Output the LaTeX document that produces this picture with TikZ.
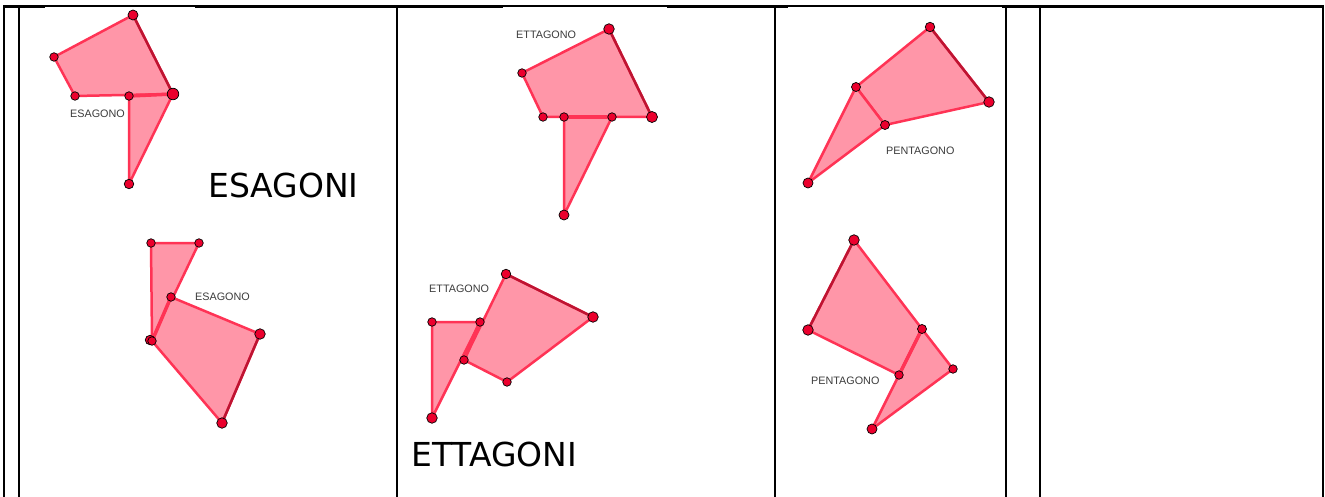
\documentclass[tikz,border=0pt]{standalone}
\usepackage{fontspec}
\setmainfont{DejaVu Sans}
\newfontfamily\lblfont{Liberation Sans}
\definecolor{polyfill}{RGB}{255,150,168}
\definecolor{polyedge}{RGB}{255,51,85}
\definecolor{darkedge}{RGB}{190,20,50}
\definecolor{dotred}{RGB}{235,0,45}
\definecolor{lblgrey}{RGB}{60,60,60}
\tikzset{
  poly/.style={fill=polyfill, draw=polyedge, line width=2.5pt, line join=round},
  darkside/.style={draw=darkedge, line width=2.5pt, line cap=round},
  shared/.style={draw=polyedge, line width=3.5pt},
  vdot/.style={circle, fill=dotred, draw=black, line width=0.7pt, inner sep=0pt, minimum size=#1},
  vdot/.default=9pt,
  bigtxt/.style={font=\fontsize{33}{39}\selectfont, inner sep=0pt, anchor=base west, text=black},
  smalltxt/.style={font=\lblfont\fontsize{10.8}{12}\selectfont, inner sep=0pt, anchor=base west, text=lblgrey},
  rule/.style={draw=black, line width=2pt},
}
\begin{document}
\begin{tikzpicture}[x=1pt, y=-1pt]
\useasboundingbox (0,0) rectangle (1325,497);
\fill[white] (0,0) rectangle (1325,497);

% ---------- table rules ----------
\coordinate (tl) at (3,6);
\coordinate (tr) at (1324,6);
\draw[rule] (tl) -- (tr);
\foreach \a/\b in {3/45, 195/503, 667/788, 1002/1324}
  \draw[black, line width=3pt] (\a,6.5) -- (\b,6.5);
\foreach \xx in {4, 19, 397, 775, 1006, 1040, 1323}
  \draw[rule] (\xx,6) -- (\xx,497);

% ---------- panel 1 top : ESAGONO ----------
\coordinate (a1) at (133,15);
\coordinate (a2) at (54,57);
\coordinate (a3) at (75,96);
\coordinate (a4) at (129,96);
\coordinate (a5) at (173,94);
\coordinate (a6) at (129,184);
\path[poly] (a1) -- (a2) -- (a3) -- (a5) -- cycle;
\path[poly] (a4) -- (a5) -- (a6) -- cycle;
\draw[shared] (a4) -- (a5);
\draw[darkside] (a1) -- (a5);
\node[vdot=10pt] (da1) at (a1) {};
\node[vdot=8.5pt] (da2) at (a2) {};
\node[vdot=8.5pt] (da3) at (a3) {};
\node[vdot=8.5pt] (da4) at (a4) {};
\node[vdot=11.5pt] (da5) at (a5) {};
\node[vdot=9.5pt] (da6) at (a6) {};
\node[smalltxt] (la) at (70,118) {ESAGONO};

\node[bigtxt] (esagoni) at (208,198) {ESAGONI};

% ---------- panel 1 bottom : ESAGONO ----------
\coordinate (b1) at (151,243);
\coordinate (b2) at (199,243);
\coordinate (b3) at (171,297);
\coordinate (b4) at (260,334);
\coordinate (b5) at (222,423);
\coordinate (b6) at (152,341);
\path[poly] (b1) -- (b2) -- (b6) -- cycle;
\path[poly] (b3) -- (b4) -- (b5) -- (b6) -- cycle;
\draw[shared] (b3) -- (b6);
\draw[darkside] (b4) -- (b5);
\node[vdot=8.5pt] (db1) at (b1) {};
\node[vdot=8.5pt] (db2) at (b2) {};
\node[vdot=8.5pt] (db3) at (b3) {};
\node[vdot=10.5pt] (db4) at (b4) {};
\node[vdot=10.5pt] (db5) at (b5) {};
\node[vdot=9.5pt] (db6b) at (150,340) {};
\node[vdot=8.5pt] (db6) at (b6) {};
\node[smalltxt] (lb) at (195,300.5) {ESAGONO};

% ---------- panel 2 top : ETTAGONO ----------
\coordinate (c1) at (609,29);
\coordinate (c2) at (522,73);
\coordinate (c3) at (543,117);
\coordinate (c4) at (564,117);
\coordinate (c5) at (612,117);
\coordinate (c6) at (652,117);
\coordinate (c7) at (564,215);
\path[poly] (c1) -- (c2) -- (c3) -- (c6) -- cycle;
\path[poly] (c4) -- (c5) -- (c7) -- cycle;
\draw[shared] (c4) -- (c5);
\draw[darkside] (c1) -- (c6);
\node[vdot=10.5pt] (dc1) at (c1) {};
\node[vdot=8.5pt] (dc2) at (c2) {};
\node[vdot=8.5pt] (dc3) at (c3) {};
\node[vdot=8.5pt] (dc4) at (c4) {};
\node[vdot=8.5pt] (dc5) at (c5) {};
\node[vdot=11pt] (dc6) at (c6) {};
\node[vdot=10pt] (dc7) at (c7) {};
\node[smalltxt] (lc) at (516,39) {ETTAGONO};

% ---------- panel 2 bottom : ETTAGONO ----------
\coordinate (e1) at (506,274);
\coordinate (e2) at (593,317);
\coordinate (e3) at (507,382);
\coordinate (e4) at (464,360);
\coordinate (e5) at (480,322);
\coordinate (e6) at (432,322);
\coordinate (e7) at (432,418);
\path[poly] (e6) -- (e5) -- (e7) -- cycle;
\path[poly] (e1) -- (e2) -- (e3) -- (e4) -- cycle;
\draw[shared] (e5) -- (e4);
\draw[darkside] (e1) -- (e2);
\node[vdot=9.5pt] (de1) at (e1) {};
\node[vdot=10.5pt] (de2) at (e2) {};
\node[vdot=8.5pt] (de3) at (e3) {};
\node[vdot=8.5pt] (de4) at (e4) {};
\node[vdot=8.5pt] (de5) at (e5) {};
\node[vdot=8.5pt] (de6) at (e6) {};
\node[vdot=10.5pt] (de7) at (e7) {};
\node[smalltxt] (le) at (429,292.5) {ETTAGONO};

\node[bigtxt] (ettagoni) at (411,466) {ETTAGONI};

% ---------- panel 3 top : PENTAGONO ----------
\coordinate (f1) at (930,27);
\coordinate (f2) at (989,102);
\coordinate (f3) at (885,125);
\coordinate (f4) at (808,183);
\coordinate (f5) at (856,87);
\path[poly] (f1) -- (f2) -- (f3) -- (f5) -- cycle;
\path[poly] (f5) -- (f3) -- (f4) -- cycle;
\draw[darkside] (f1) -- (f2);
\node[vdot=9.5pt] (df1) at (f1) {};
\node[vdot=10.5pt] (df2) at (f2) {};
\node[vdot=9pt] (df3) at (f3) {};
\node[vdot=10pt] (df4) at (f4) {};
\node[vdot=9pt] (df5) at (f5) {};
\node[smalltxt] (lf) at (886,155) {PENTAGONO};

% ---------- panel 3 bottom : PENTAGONO ----------
\coordinate (g1) at (854,240);
\coordinate (g2) at (922,329);
\coordinate (g3) at (953,369);
\coordinate (g4) at (872,429);
\coordinate (g5) at (899,375);
\coordinate (g6) at (808,330);
\path[poly] (g1) -- (g2) -- (g5) -- (g6) -- cycle;
\path[poly] (g2) -- (g3) -- (g4) -- cycle;
\draw[shared] (g2) -- (g5);
\draw[darkside] (g1) -- (g6);
\node[vdot=10.5pt] (dg1) at (g1) {};
\node[vdot=9pt] (dg2) at (g2) {};
\node[vdot=8.5pt] (dg3) at (g3) {};
\node[vdot=10pt] (dg4) at (g4) {};
\node[vdot=8.5pt] (dg5) at (g5) {};
\node[vdot=10.5pt] (dg6) at (g6) {};
\node[smalltxt] (lg) at (811,384) {PENTAGONO};
\end{tikzpicture}
\end{document}
